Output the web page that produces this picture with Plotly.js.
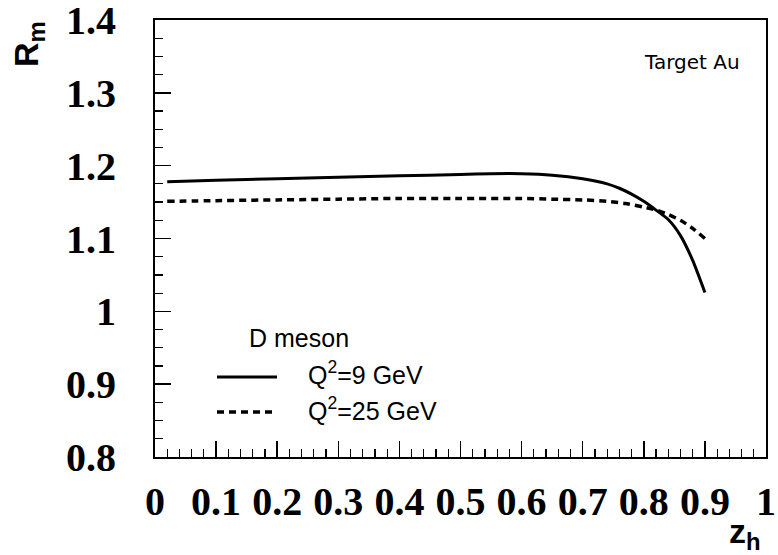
<!DOCTYPE html>
<html>
<head>
<meta charset="utf-8">
<script src="https://cdn.plot.ly/plotly-3.0.1.min.js"></script>
<style>
html,body{margin:0;padding:0;background:#fff;}
#chart{width:778px;height:555px;}
</style>
</head>
<body>
<div id="chart"></div>
<script>
// Q^2 = 9 GeV (solid)
var zSolid = [0.02, 0.1, 0.2, 0.3, 0.4, 0.5, 0.55, 0.6, 0.65, 0.7, 0.74, 0.76, 0.78, 0.8, 0.82, 0.84, 0.86, 0.88, 0.9];
var rSolid = [1.178, 1.180, 1.182, 1.184, 1.186, 1.188, 1.189, 1.189, 1.187, 1.182, 1.175, 1.169, 1.161, 1.151, 1.139, 1.126, 1.104, 1.070, 1.026];
// Q^2 = 25 GeV (dashed)
var zDash = [0.02, 0.1, 0.2, 0.3, 0.4, 0.5, 0.6, 0.65, 0.7, 0.74, 0.77, 0.8, 0.82, 0.84, 0.86, 0.88, 0.9];
var rDash = [1.151, 1.152, 1.153, 1.154, 1.155, 1.155, 1.155, 1.154, 1.153, 1.151, 1.148, 1.143, 1.139, 1.133, 1.125, 1.114, 1.100];

var xTicks = [0, 0.1, 0.2, 0.3, 0.4, 0.5, 0.6, 0.7, 0.8, 0.9, 1];
var xTickLabels = ["0", "0.1", "0.2", "0.3", "0.4", "0.5", "0.6", "0.7", "0.8", "0.9", "1"];
var yTicks = [0.8, 0.9, 1.0, 1.1, 1.2, 1.3, 1.4];
var yTickLabels = ["0.8", "0.9", "1", "1.1", "1.2", "1.3", "1.4"];

var legendHeader = "D meson";
var seriesNames = ["Q<sup>2</sup>=9 GeV", "Q<sup>2</sup>=25 GeV"];
var targetLabel = "Target Au";

var traces = [
  {x: zSolid, y: rSolid, type: 'scatter', mode: 'lines', name: seriesNames[0],
   line: {color: '#000', width: 3, shape: 'spline', smoothing: 0.6}, hoverinfo: 'skip'},
  {x: zDash, y: rDash, type: 'scatter', mode: 'lines', name: seriesNames[1],
   line: {color: '#000', width: 3.5, dash: '7px,5px', shape: 'spline', smoothing: 0.6}, hoverinfo: 'skip'}
];

var tickFont = {family: 'Liberation Serif, Times New Roman, serif', size: 40, color: '#000', weight: 'bold'};
var labelFont = {family: 'Liberation Sans, Arial, sans-serif', size: 25, color: '#000'};

var layout = {
  width: 778, height: 555,
  margin: {l: 155, r: 12, t: 20, b: 98, pad: 0},
  paper_bgcolor: '#fff', plot_bgcolor: '#fff',
  showlegend: false,
  xaxis: {
    range: [0, 1], tickmode: 'array', tickvals: xTicks, ticktext: xTickLabels,
    ticks: 'inside', ticklen: 16, tickwidth: 1.5, tickcolor: '#000',
    showline: true, linewidth: 2, linecolor: '#000', mirror: true,
    showgrid: false, zeroline: false, tickfont: tickFont, ticklabelstandoff: 8,
    ticklabeloverflow: 'allow',
    minor: {dtick: 0.02, tick0: 0, ticks: 'inside', ticklen: 8, tickwidth: 1.2, tickcolor: '#000', showgrid: false}
  },
  yaxis: {
    range: [0.8, 1.4], tickmode: 'array', tickvals: yTicks, ticktext: yTickLabels,
    ticks: 'inside', ticklen: 16, tickwidth: 1.5, tickcolor: '#000',
    showline: true, linewidth: 2, linecolor: '#000', mirror: true,
    showgrid: false, zeroline: false, tickfont: tickFont, ticklabelstandoff: 29,
    ticklabeloverflow: 'allow',
    minor: {dtick: 0.025, tick0: 0.8, ticks: 'inside', ticklen: 8, tickwidth: 1.2, tickcolor: '#000', showgrid: false}
  },
  shapes: [
    {type: 'line', xref: 'paper', yref: 'paper', x0: (217-155)/611, x1: (277-155)/611,
     y0: (457-377)/437, y1: (457-377)/437, line: {color: '#000', width: 3}},
    {type: 'line', xref: 'paper', yref: 'paper', x0: (217-155)/611, x1: (277-155)/611,
     y0: (457-412)/437, y1: (457-412)/437, line: {color: '#000', width: 3.5, dash: '7px,5px'}}
  ],
  annotations: [
    {xref: 'paper', yref: 'paper', x: (28-155)/611, y: (457-44)/437, text: '<b>R<sub>m</sub></b>',
     textangle: -90, showarrow: false, xanchor: 'center', yanchor: 'middle',
     font: {family: 'Liberation Sans, Arial, sans-serif', size: 34, color: '#000'}},
    {xref: 'paper', yref: 'paper', x: (745-155)/611, y: (457-533)/437, text: '<b>z<sub>h</sub></b>',
     showarrow: false, xanchor: 'center', yanchor: 'middle',
     font: {family: 'Liberation Sans, Arial, sans-serif', size: 34, color: '#000'}},
    {xref: 'paper', yref: 'paper', x: (742-155)/611, y: (457-62)/437, text: targetLabel,
     showarrow: false, xanchor: 'right', yanchor: 'middle', font: {family: 'DejaVu Sans, sans-serif', size: 20, color: '#000'}},
    {xref: 'paper', yref: 'paper', x: (247-155)/611, y: (457-338)/437, text: legendHeader,
     showarrow: false, xanchor: 'left', yanchor: 'middle', font: labelFont},
    {xref: 'paper', yref: 'paper', x: (306-155)/611, y: (457-373)/437, text: seriesNames[0],
     showarrow: false, xanchor: 'left', yanchor: 'middle', font: labelFont},
    {xref: 'paper', yref: 'paper', x: (306-155)/611, y: (457-409)/437, text: seriesNames[1],
     showarrow: false, xanchor: 'left', yanchor: 'middle', font: labelFont}
  ]
};

Plotly.newPlot('chart', traces, layout, {staticPlot: true, displayModeBar: false});
</script>
</body>
</html>
